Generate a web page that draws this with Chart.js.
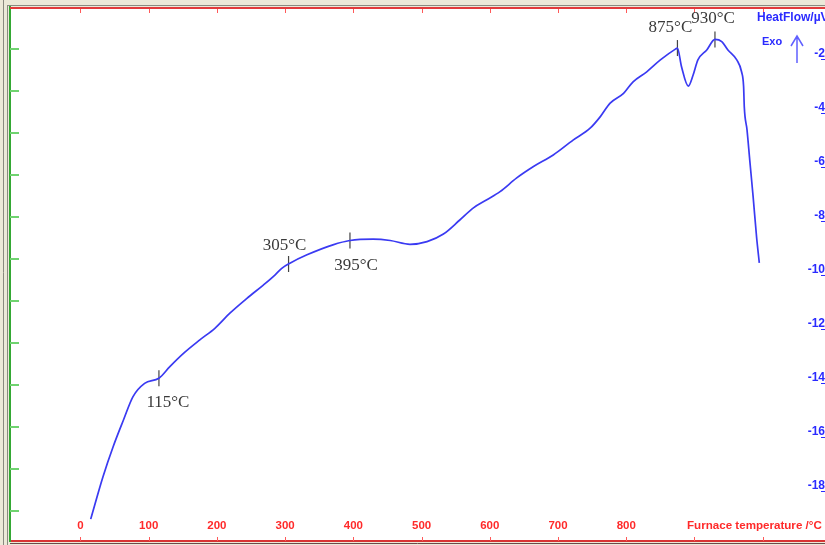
<!DOCTYPE html>
<html>
<head>
<meta charset="utf-8">
<script src="https://cdn.jsdelivr.net/npm/chart.js@4"></script>
<style>
  html, body { margin: 0; padding: 0; background: #ece9d8; overflow: hidden; }
  #wrap { position: absolute; left: 0; top: 0; width: 825px; height: 545px; }
</style>
</head>
<body>
<div id="wrap"><canvas id="dsc" width="825" height="545"></canvas></div>
<script>
// DSC heating curve: furnace temperature (°C) against heat flow (µV)
const tempC = [
  15, 33, 48, 63, 77, 94, 115, 131, 151, 175, 197, 219, 244, 268, 285, 295, 307,
  332, 370, 395, 429, 454, 483, 508, 532, 556, 576, 595, 615, 639, 664, 693, 722,
  747, 762, 776, 796, 810, 830, 850, 872, 875, 881, 891, 898, 905, 918, 930, 940,
  949, 962, 969, 972, 973, 977, 981, 986, 991, 995
];
const heatFlow = [
  -19.23, -17.66, -16.54, -15.56, -14.69, -14.20, -14.01, -13.58, -13.09, -12.59,
  -12.16, -11.60, -11.05, -10.56, -10.19, -9.94, -9.75,
  -9.44, -9.07, -8.91, -8.86, -8.91, -9.05, -8.95, -8.67, -8.15, -7.70, -7.41,
  -7.10, -6.60, -6.17, -5.74, -5.19,
  -4.75, -4.32, -3.83, -3.46, -3.03, -2.66, -2.22, -1.82, -1.78, -2.47, -3.19,
  -2.78, -2.22, -1.85, -1.46, -1.54,
  -1.85, -2.22, -2.66, -3.21, -3.96, -4.81, -5.93, -7.30, -8.78, -9.74
];

// Characteristic temperatures marked on the curve
const peakTemps  = [115, 305, 395, 875, 930];
const peakFlow   = [-14.01, -9.78, -8.91, -1.78, -1.46];
const peakLabels = ['115°C', '305°C', '395°C', '875°C', '930°C'];

// Axis ticks
const tempTickValues = [0, 100, 200, 300, 400, 500, 600, 700, 800, 900, 1000];
const tempTicks = [0, 100, 200, 300, 400, 500, 600, 700, 800];   // labelled ones
const flowTicks = [-2, -4, -6, -8, -10, -12, -14, -16, -18];
const leftTicks = [-1, -2, -3, -4, -5, -6, -7, -8, -9, -10, -11, -12];

const xTitle = 'Furnace temperature /°C';
const yTitle = 'HeatFlow/µV';
const exoText = 'Exo';

// label offsets (px) relative to each marker
const peakLabelOffset = [[9, 24], [-4, -18], [6, 25], [-7, -21], [-2, -21]];

const RED = '#ff2a2a';
const BLUE = '#2a2aff';
const GREEN = '#34a834';
const SANS = '"Liberation Sans", Arial, sans-serif';

// keep every axis from reserving room, so the plot fills the frame
function flatten(size, key) {
  return s => {
    s[key] = size;
    s.paddingLeft = 0; s.paddingRight = 0; s.paddingTop = 0; s.paddingBottom = 0;
  };
}
function fixedTicks(values) {
  return s => { s.ticks = values.map(v => ({ value: v })); };
}

const framePlugin = {
  id: 'frame',
  beforeDraw(chart) {
    const { ctx, chartArea: a } = chart;
    ctx.save();
    ctx.fillStyle = '#ffffff';
    ctx.fillRect(a.left, a.top, a.right - a.left, a.bottom - a.top);
    // window edge lines
    ctx.strokeStyle = '#8a8a80';
    ctx.lineWidth = 1;
    ctx.beginPath();
    ctx.moveTo(7.5, 5); ctx.lineTo(7.5, 545);
    ctx.moveTo(7, 5.5); ctx.lineTo(825, 5.5);
    ctx.moveTo(3.5, 0); ctx.lineTo(3.5, 545);
    ctx.stroke();
    ctx.restore();
  },
  afterDraw(chart) {
    const { ctx, chartArea: a, scales } = chart;
    const x = scales.x, yR = scales.yR, yL = scales.yL;
    ctx.save();

    // top frame line
    ctx.strokeStyle = '#e23b3b';
    ctx.lineWidth = 2;
    ctx.beginPath();
    ctx.moveTo(a.left, a.top + 1); ctx.lineTo(a.right, a.top + 1);
    ctx.stroke();
    // dark edge under bottom line
    ctx.strokeStyle = '#6d4a4a';
    ctx.lineWidth = 1;
    ctx.beginPath();
    ctx.moveTo(a.left, a.bottom + 2.5); ctx.lineTo(a.right, a.bottom + 2.5);
    ctx.stroke();

    // temperature tick marks on top and bottom frame lines
    ctx.strokeStyle = '#ff5a5a';
    ctx.lineWidth = 1;
    x.ticks.forEach(t => {
      const px = Math.round(x.getPixelForValue(t.value)) + 0.5;
      ctx.beginPath();
      ctx.moveTo(px, a.top + 2); ctx.lineTo(px, a.top + 6);
      ctx.moveTo(px, a.bottom - 4); ctx.lineTo(px, a.bottom);
      ctx.stroke();
    });

    // inward tick marks of the left axis
    ctx.strokeStyle = '#6fd36f';
    ctx.lineWidth = 2;
    yL.ticks.forEach(t => {
      const py = Math.round(yL.getPixelForValue(t.value));
      ctx.beginPath();
      ctx.moveTo(a.left, py); ctx.lineTo(a.left + 9, py);
      ctx.stroke();
    });

    // small dashes under the heat-flow labels
    ctx.strokeStyle = BLUE;
    ctx.lineWidth = 1;
    flowTicks.forEach(v => {
      const py = Math.round(yR.getPixelForValue(v)) + 5.5;
      ctx.beginPath();
      ctx.moveTo(a.right - 4, py); ctx.lineTo(a.right, py);
      ctx.stroke();
    });

    // marker labels
    ctx.fillStyle = '#3a3a3a';
    ctx.font = '17px "Liberation Serif", "Times New Roman", serif';
    ctx.textAlign = 'center';
    ctx.textBaseline = 'middle';
    peakTemps.forEach((t, i) => {
      const px = x.getPixelForValue(t);
      const py = yR.getPixelForValue(peakFlow[i]);
      ctx.fillText(peakLabels[i], px + peakLabelOffset[i][0], py + peakLabelOffset[i][1]);
    });

    // axis titles
    ctx.textAlign = 'left';
    ctx.font = 'bold 11.6px ' + SANS;
    ctx.fillStyle = RED;
    ctx.fillText(xTitle, 687, 526);
    ctx.font = 'bold 12px ' + SANS;
    ctx.fillStyle = BLUE;
    ctx.fillText(yTitle, 757, 18);
    ctx.font = 'bold 11px ' + SANS;
    ctx.fillText(exoText, 762, 42);

    // exothermic direction arrow
    ctx.strokeStyle = '#6060ff';
    ctx.lineWidth = 1.5;
    ctx.beginPath();
    ctx.moveTo(797, 63); ctx.lineTo(797, 36);
    ctx.moveTo(791, 46); ctx.lineTo(797, 36); ctx.lineTo(803, 46);
    ctx.stroke();

    ctx.restore();
  }
};

new Chart(document.getElementById('dsc'), {
  type: 'line',
  data: {
    datasets: [
      {
        label: 'Heat flow',
        data: tempC.map((t, i) => ({ x: t, y: heatFlow[i] })),
        xAxisID: 'x',
        yAxisID: 'yR',
        borderColor: '#3a3af2',
        borderWidth: 1.7,
        pointRadius: 0,
        cubicInterpolationMode: 'monotone',
        fill: false
      },
      {
        label: 'Markers',
        data: peakTemps.map((t, i) => ({ x: t, y: peakFlow[i] })),
        xAxisID: 'x',
        yAxisID: 'yR',
        showLine: false,
        pointStyle: 'line',
        rotation: 90,
        pointRadius: 8,
        pointBorderColor: '#444444',
        pointBorderWidth: 1.2
      }
    ]
  },
  options: {
    responsive: false,
    animation: false,
    devicePixelRatio: 1,
    layout: { autoPadding: false, padding: { left: 10, top: 7, right: 0, bottom: 0 } },
    plugins: { legend: { display: false }, tooltip: { enabled: false } },
    scales: {
      x: {
        type: 'linear',
        position: 'bottom',
        min: -103.3,
        max: 1091.3,
        afterBuildTicks: fixedTicks(tempTickValues),
        afterFit: flatten(4, 'height'),
        grid: { display: false, drawTicks: false },
        border: { display: true, color: '#d83434', width: 2 },
        ticks: {
          autoSkip: false,
          maxRotation: 0,
          mirror: true,
          padding: 8,
          color: RED,
          font: { family: SANS, size: 11.5, weight: 'bold' },
          callback: v => (tempTicks.includes(v) ? String(v) : '')
        }
      },
      yR: {
        type: 'linear',
        position: 'right',
        min: -20.04,
        max: -0.26,
        afterBuildTicks: fixedTicks(flowTicks),
        afterFit: flatten(0, 'width'),
        grid: { display: false, drawTicks: false },
        border: { display: false },
        ticks: {
          autoSkip: false,
          mirror: true,
          padding: 0,
          color: BLUE,
          font: { family: SANS, size: 12, weight: 'bold' },
          callback: v => String(v)
        }
      },
      yL: {
        type: 'linear',
        position: 'left',
        min: -12.72,
        max: 0.01,
        afterBuildTicks: fixedTicks(leftTicks),
        afterFit: flatten(0, 'width'),
        grid: { display: false, drawTicks: false },
        border: { display: true, color: GREEN, width: 2 },
        ticks: { display: false }
      }
    }
  },
  plugins: [framePlugin]
});
</script>
</body>
</html>
